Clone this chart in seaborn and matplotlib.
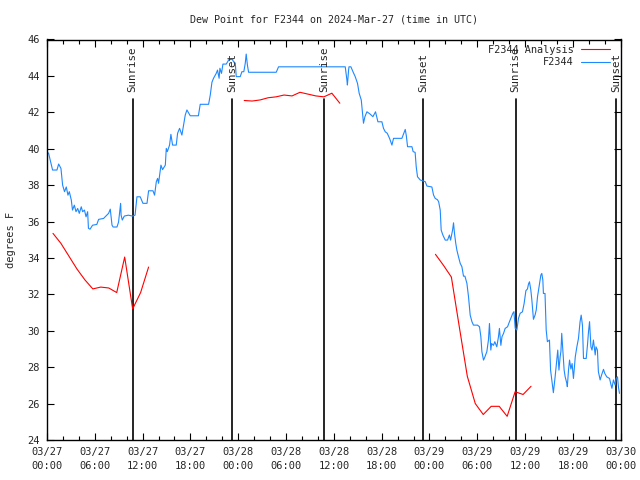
import numpy as np
import pandas as pd
import matplotlib
matplotlib.use("Agg")
import matplotlib.pyplot as plt
import seaborn as sns

# ---------------- data (hours since 03/27 00:00 UTC) ----------------
title = "Dew Point for F2344 on 2024-Mar-27 (time in UTC)"
ylabel = "degrees F"

obs_hours = [0.05, 0.2, 0.45, 0.7, 1.25, 1.46, 1.75, 1.96, 2.2, 2.42, 2.63, 2.8, 3.05, 3.2, 3.43, 3.64,
             3.85, 4.05, 4.3, 4.47, 4.7, 4.9, 5.1, 5.2, 5.4, 5.72, 6.25, 6.48, 7.1, 7.73, 7.94, 8.16,
             8.3, 8.78, 8.98, 9.24, 9.3, 9.45, 9.7, 10.2, 10.74, 11.05, 11.29, 11.7, 12.04, 12.55,
             12.75, 13.3, 13.5, 13.72, 13.88, 14.0, 14.3, 14.5, 14.85, 14.97, 15.1, 15.38, 15.55,
             15.76, 16.22, 16.39, 16.64, 16.93, 17.14, 17.35, 17.56, 17.98, 19.0, 19.23, 20.28,
             20.49, 20.7, 20.9, 21.24, 21.4, 21.6, 21.7, 21.9, 22.08, 22.5, 22.79, 23.2, 23.4,
             23.63, 23.75, 24.25, 24.46, 24.7, 24.88, 25.0, 25.15, 25.3, 28.77, 29.06, 37.43,
             37.64, 37.7, 37.85, 37.9, 38.14, 38.4, 38.68, 38.97, 39.18, 39.44, 39.65, 39.72,
             39.9, 40.15, 40.56, 40.9, 41.23, 41.53, 42.03, 42.23, 42.45, 42.7, 42.99, 43.29,
             43.49, 44.54, 44.96, 45.1, 45.25, 45.8, 45.95, 46.2, 46.34, 46.5, 46.85, 47.47,
             47.68, 48.1, 48.3, 48.51, 48.72, 49.0, 49.15, 49.35, 49.47, 49.68, 49.98, 50.27,
             50.5, 50.65, 50.9, 51.02, 51.14, 51.3, 51.44, 51.64, 51.86, 52.07, 52.27, 52.45,
             52.7, 52.9, 53.11, 53.33, 53.52, 54.03, 54.28, 54.45, 54.58, 54.78, 54.9, 55.2,
             55.4, 55.53, 55.7, 55.8, 56.03, 56.2, 56.45, 56.66, 56.78, 56.96, 57.1, 57.3, 57.5,
             57.8, 58.04, 58.46, 58.6, 58.76, 58.97, 59.17, 59.38, 59.67, 59.88, 60.1, 60.3,
             60.43, 60.55, 60.72, 60.85, 61.05, 61.25, 61.4, 61.56, 61.81, 61.98, 62.1, 62.23,
             62.3, 62.5, 62.65, 62.8, 63.06, 63.2, 63.35, 63.47, 63.55, 63.77, 63.98, 64.1,
             64.25, 64.4, 64.5, 64.6, 64.75, 64.9, 65.03, 65.24, 65.3, 65.45, 65.58, 65.75,
             65.9, 66.07, 66.3, 66.5, 66.7, 66.9, 67.04, 67.2, 67.33, 67.67, 67.83, 67.96,
             68.09, 68.26, 68.4, 68.58, 68.8, 68.9, 69.08, 69.2, 69.42, 69.6, 69.84, 70.0,
             70.25, 70.6, 70.76, 70.9, 71.09, 71.3, 71.43, 71.6, 71.72, 71.85]
obs_values = [39.8, 39.75, 39.3, 38.83, 38.83, 39.16, 38.92, 38.0, 37.64, 37.9, 37.45, 37.64, 37.18,
              36.63, 36.9, 36.54, 36.72, 36.45, 36.81, 36.54, 36.63, 36.26, 36.54, 35.63, 35.58,
              35.8, 35.84, 36.12, 36.17, 36.45, 36.68, 35.8, 35.7, 35.7, 35.97, 37.0, 36.35, 36.08,
              36.3, 36.35, 36.3, 36.35, 37.36, 37.36, 37.0, 37.0, 37.69, 37.69, 37.45, 38.19,
              38.37, 38.1, 39.1, 38.85, 39.1, 40.02, 39.84, 40.2, 40.79, 40.2, 40.2, 40.85, 41.12,
              40.75, 41.3, 41.85, 42.13, 41.81, 41.81, 42.44, 42.44, 42.95, 43.65, 43.87, 44.14,
              44.32, 43.87, 44.42, 44.14, 44.65, 44.65, 44.87, 44.93, 44.8, 44.7, 43.96, 43.96,
              44.23, 44.23, 44.69, 45.2, 44.6, 44.2, 44.2, 44.5, 44.5, 43.77, 43.5, 44.32, 44.5,
              44.5, 44.23, 43.96, 43.59, 43.04, 42.68, 41.67, 41.4, 41.76, 42.03, 41.9, 41.76,
              42.03, 41.48, 41.48, 41.12, 40.93, 40.85, 40.57, 40.2, 40.57, 40.57, 41.06, 40.7,
              40.11, 40.11, 39.84, 39.8, 39.0, 38.46, 38.28, 38.19, 37.95, 37.92, 37.9, 37.46,
              37.27, 37.2, 37.09, 36.63, 35.53, 35.26, 34.98, 34.98, 35.26, 34.98, 35.53, 35.93,
              35.35, 34.8, 34.43, 34.07, 33.7, 33.52, 33.0, 33.0, 32.6, 31.87, 30.86, 30.5, 30.31,
              30.31, 30.22, 29.67, 28.85, 28.39, 28.5, 28.85, 29.49, 30.4, 28.94, 29.3, 29.2, 29.4,
              29.12, 29.67, 30.13, 29.2, 29.67, 29.86, 30.13, 30.22, 30.5, 30.96, 31.05, 30.13,
              30.04, 30.68, 30.96, 31.04, 31.5, 32.2, 32.3, 32.57, 32.69, 32.24, 31.69, 30.63,
              30.86, 31.14, 31.87, 32.6, 33.06, 33.15, 32.78, 32.05, 32.05, 30.04, 29.4, 29.49,
              27.84, 27.3, 26.84, 26.6, 27.47, 28.39, 28.94, 27.84, 28.57, 28.88, 29.86, 28.88,
              27.84, 27.47, 27.11, 26.93, 27.84, 28.39, 27.9, 28.2, 27.38, 28.57, 29.12, 29.58,
              30.5, 30.86, 30.3, 28.48, 28.48, 29.22, 29.95, 30.5, 29.12, 28.94, 29.49, 28.67,
              29.12, 28.94, 27.75, 27.3, 27.57, 27.88, 27.66, 27.47, 27.38, 27.07, 26.84, 27.3,
              27.02, 27.38, 27.47, 26.9, 26.56]

ana_hours = [0.75, 1.75, 2.75, 3.75, 4.75, 5.75, 6.75, 7.75, 8.75, 9.75, 10.75, 11.75, 12.75,
             24.75, 25.75, 26.75, 27.75, 28.75, 29.75, 30.75, 31.75, 32.75, 33.75, 34.75, 35.75, 36.75,
             48.75, 49.75, 50.75, 51.75, 52.75, 53.75, 54.75, 55.75, 56.75, 57.75, 58.75, 59.75, 60.75]
ana_values = [35.35, 34.8, 34.1, 33.4, 32.8, 32.3, 32.4, 32.35, 32.1, 34.05, 31.2, 32.1, 33.5,
              42.65, 42.62, 42.68, 42.8, 42.85, 42.95, 42.9, 43.1, 43.0, 42.9, 42.85, 43.05, 42.5,
              34.2, 33.6, 32.95, 30.2, 27.5, 26.0, 25.4, 25.85, 25.85, 25.3, 26.65, 26.5, 26.95]
ana_segment = [0] * 13 + [1] * 13 + [2] * 13

sunrise_hours = [10.75, 34.8, 58.8]
sunset_hours = [23.2, 47.25, 71.4]

xtick_hours = [0, 6, 12, 18, 24, 30, 36, 42, 48, 54, 60, 66, 72]
xtick_labels = ["03/27\n00:00", "03/27\n06:00", "03/27\n12:00", "03/27\n18:00",
                "03/28\n00:00", "03/28\n06:00", "03/28\n12:00", "03/28\n18:00",
                "03/29\n00:00", "03/29\n06:00", "03/29\n12:00", "03/29\n18:00",
                "03/30\n00:00"]
yticks = [24, 26, 28, 30, 32, 34, 36, 38, 40, 42, 44, 46]

# ---------------- build frame ----------------
df_obs = pd.DataFrame({"time": obs_hours, "value": obs_values,
                       "series": "F2344", "segment": "obs"})
df_ana = pd.DataFrame({"time": ana_hours, "value": ana_values,
                       "series": "F2344 Analysis",
                       "segment": [f"ana{s}" for s in ana_segment]})
df = pd.concat([df_ana, df_obs], ignore_index=True)

sns.set_style("white")
plt.rcParams["font.family"] = ["DejaVu Sans Mono", "DejaVu Sans"]
plt.rcParams["font.size"] = 7

fig = plt.figure(figsize=(6.4, 4.8), dpi=100)
ax = fig.add_axes([47 / 640, 40 / 480, (620.7 - 47) / 640, 400.5 / 480])

palette = {"F2344 Analysis": "#ff0000", "F2344": "#1e88ff"}
sns.lineplot(data=df, x="time", y="value", hue="series", units="segment",
             estimator=None, hue_order=["F2344 Analysis", "F2344"],
             palette=palette, linewidth=0.8, ax=ax)

# sunrise / sunset markers
events = [(h, "Sunrise") for h in sunrise_hours] + [(h, "Sunset") for h in sunset_hours]
for h, lab in events:
    ax.axvline(h, ymin=0, ymax=0.8525, color="black", linewidth=1.2, zorder=1)
    ax.text(h, 0.868, lab, transform=ax.get_xaxis_transform(), rotation=90,
            ha="center", va="bottom", fontsize=7.8)

ax.set_xlim(0, 72)
ax.set_ylim(24, 46)
ax.set_xticks(xtick_hours)
ax.set_xticklabels(xtick_labels, linespacing=1.5)
ax.set_xticks(np.arange(0, 73, 2), minor=True)
ax.set_yticks(yticks)
ax.set_yticklabels([str(v) for v in yticks])
ax.tick_params(which="both", direction="in", top=True, right=True, bottom=True, left=True,
               color="black", width=0.8, labelsize=7.5)
ax.tick_params(which="major", length=5, pad=5)
ax.tick_params(which="minor", length=3)
ax.set_xlabel("")
ax.set_ylabel("")
for sp in ax.spines.values():
    sp.set_color("black")
    sp.set_linewidth(1.0)

fig.text(334 / 640, 1 - 20 / 480, title, ha="center", va="center", fontsize=7.2)
fig.text(11 / 640, 0.5, ylabel, rotation=90, ha="center", va="center", fontsize=7.5)

leg = ax.legend(loc="upper right", bbox_to_anchor=(0.99, 1.0), frameon=False,
                markerfirst=False, fontsize=7.4, handlelength=2.8, handletextpad=0.7,
                labelspacing=0.25, borderaxespad=0.1)

fig.savefig("out.png", dpi=100)
